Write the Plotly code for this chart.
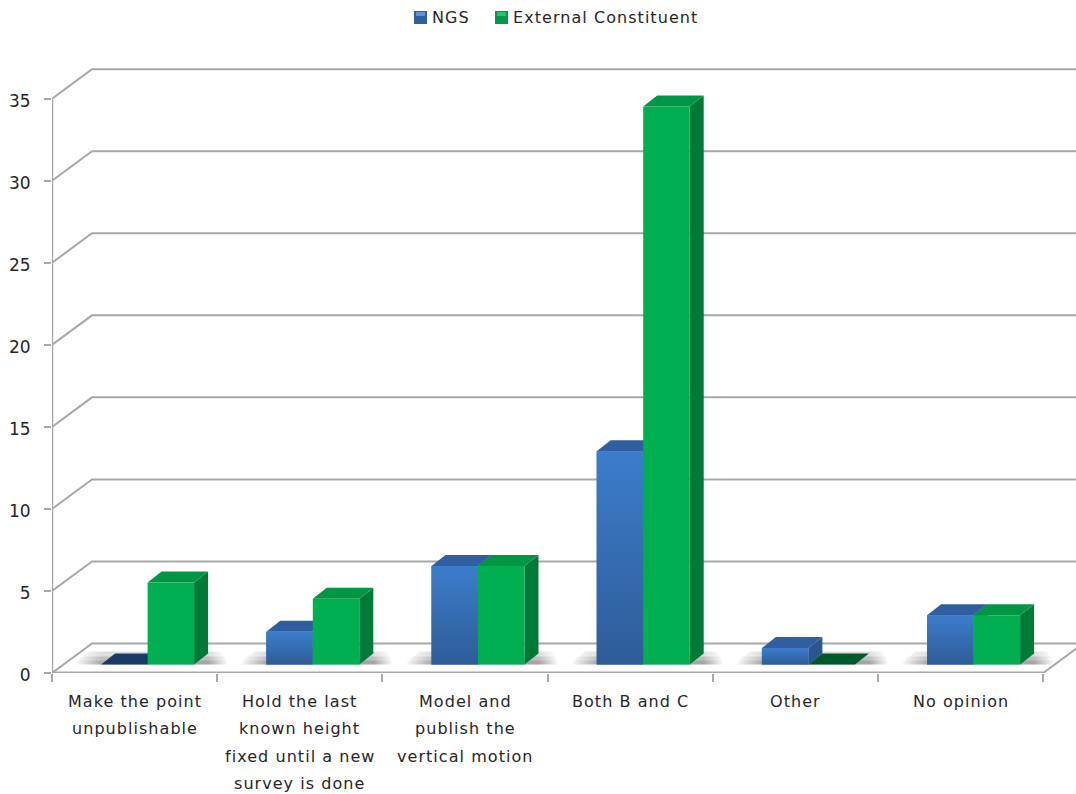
import plotly.graph_objects as go

# Survey responses per option, with category labels broken into lines
category_lines = [
    ["Make the point", "unpublishable"],
    ["Hold the last", "known height", "fixed until a new", "survey is done"],
    ["Model and", "publish the", "vertical motion"],
    ["Both B and C"],
    ["Other"],
    ["No opinion"],
]
ngs_values = [0, 2, 6, 13, 1, 3]
external_values = [5, 4, 6, 34, 0, 3]
y_ticks = [0, 5, 10, 15, 20, 25, 30, 35]

WIDTH, HEIGHT = 1076, 794
LEFT, BASELINE = 52, 672.7
PX_PER_CAT, PX_PER_UNIT = 165.2, 16.4
TOP = 56


def ux(px):
    return px / PX_PER_CAT


def uy(px):
    return px / PX_PER_UNIT


def spaced(text):
    return f"<span style='letter-spacing:1.05px'>{text}</span>"


# Oblique projection offsets, in data units
wall_dx, wall_dy = ux(40), uy(29.5)
bar_dx, bar_dy = ux(14), uy(11)
bar_base = uy(8.5)
group_shift = ux(13)
bar_w = ux(46.5)
n_cat = len(category_lines)

GRID = "#a8a8a8"
TEXT = "#262626"
series = [
    dict(name="NGS", values=ngs_values, front="#3876c2", top="#2f5f9e", side="#2a5690",
         flat="#1c3a66", grad=[[0, "#2f5c98"], [1, "#3b7dcb"]], offset=-bar_w / 2),
    dict(name="External Constituent", values=external_values, front="#00b050", top="#009645",
         side="#007a37", flat="#00592a", grad=None, offset=bar_w / 2),
]

fig = go.Figure()


def poly(xs, ys, z, color=None, gradient=None):
    fig.add_trace(go.Scatter(
        x=xs + xs[:1], y=ys + ys[:1], mode="lines", line=dict(width=0),
        fill="toself", fillcolor=color, fillgradient=gradient,
        hoverinfo="skip", showlegend=False, zorder=z,
    ))


# Wall gridlines with their slanted run back from the value axis
for v in y_ticks:
    fig.add_trace(go.Scatter(
        x=[0, wall_dx, n_cat + wall_dx], y=[v, v + wall_dy, v + wall_dy],
        mode="lines", line=dict(color=GRID, width=2), hoverinfo="skip",
        showlegend=False, zorder=0,
    ))
fig.add_trace(go.Scatter(x=[0, 0], y=[0, y_ticks[-1]], mode="lines",
                         line=dict(color=GRID, width=2.5), hoverinfo="skip",
                         showlegend=False, zorder=0))
fig.add_trace(go.Scatter(x=[n_cat, n_cat + wall_dx], y=[0, wall_dy], mode="lines",
                         line=dict(color=GRID, width=2), hoverinfo="skip",
                         showlegend=False, zorder=0))

# Soft shadow on the floor around each bar group, denser close to the base
for i in range(n_cat):
    c = i + 0.5 + group_shift
    left, right = c - bar_w - ux(26), c + bar_w + ux(34)
    span = right - left
    stop_l = ux(26) / span
    stop_r = (ux(26) + 2 * bar_w + ux(14)) / span
    for height, slant, alpha in [(4, 2, 0.22), (8, 6, 0.22), (13, 14, 0.2)]:
        poly([left, right, right - ux(slant / 2), left + ux(slant)],
             [bar_base, bar_base, bar_base + uy(height), bar_base + uy(height)], 1,
             gradient=dict(type="horizontal", colorscale=[
                 [0, "rgba(110,110,110,0)"], [stop_l, f"rgba(90,90,90,{alpha})"],
                 [stop_r, f"rgba(80,80,80,{alpha})"], [1, "rgba(110,110,110,0)"]]))

# Bars: side and top faces from the values, front faces as bar traces
for s_idx, s in enumerate(series):
    z = 2 + s_idx * 3
    for i, v in enumerate(s["values"]):
        xl = i + 0.5 + group_shift + s["offset"] - bar_w / 2
        xr = xl + bar_w
        t = bar_base + v
        if v > 0:
            poly([xr, xr + bar_dx, xr + bar_dx, xr],
                 [bar_base, bar_base + bar_dy, t + bar_dy, t], z, color=s["side"])
        poly([xl, xl + bar_dx, xr + bar_dx, xr], [t, t + bar_dy, t + bar_dy, t], z,
             color=s["top"] if v > 0 else s["flat"])
    fig.add_trace(go.Bar(
        x=[i + 0.5 + group_shift + s["offset"] for i in range(n_cat)],
        y=s["values"], base=[bar_base] * n_cat, width=bar_w, name=s["name"],
        marker=dict(color=s["front"], line=dict(width=0)),
        showlegend=False, zorder=z + 1,
    ))
    if s["grad"]:
        for i, v in enumerate(s["values"]):
            if v > 0:
                xl = i + 0.5 + group_shift + s["offset"] - bar_w / 2
                poly([xl, xl + bar_w, xl + bar_w, xl],
                     [bar_base, bar_base, bar_base + v, bar_base + v], z + 2,
                     gradient=dict(type="vertical", colorscale=s["grad"]))

# Multi-line category labels with the chart's wide line spacing
annotations = []
for i, lines in enumerate(category_lines):
    for j, line in enumerate(lines):
        annotations.append(dict(
            x=i + 0.5, y=0, xref="x", yref="y", yanchor="middle", xanchor="center",
            yshift=-(28.5 + 27.4 * j), text=spaced(line), showarrow=False,
            font=dict(family="DejaVu Sans", size=16, color=TEXT),
        ))

# Legend row above the plot
legend_items = [
    ("NGS", 414, 432, "#2f5f9e", "#5b93d6"),
    ("External Constituent", 495, 513, "#00984a", "#22c46c"),
]
plot_w, plot_h = WIDTH - LEFT, BASELINE - TOP
shapes = []
for label, sx, tx, dark, light in legend_items:
    shapes.append(dict(type="rect", xref="paper", yref="paper",
                       x0=(sx - LEFT) / plot_w, x1=(sx + 13 - LEFT) / plot_w,
                       y0=1 + (TOP - 24) / plot_h, y1=1 + (TOP - 11) / plot_h,
                       fillcolor=dark, line=dict(width=0)))
    shapes.append(dict(type="rect", xref="paper", yref="paper",
                       x0=(sx + 2 - LEFT) / plot_w, x1=(sx + 11 - LEFT) / plot_w,
                       y0=1 + (TOP - 16) / plot_h, y1=1 + (TOP - 12) / plot_h,
                       fillcolor=light, line=dict(width=0)))
    annotations.append(dict(
        x=(tx - LEFT) / plot_w, y=1 + (TOP - 18) / plot_h,
        xref="paper", yref="paper", xanchor="left", yanchor="middle", xshift=-2,
        text=spaced(label), showarrow=False,
        font=dict(family="DejaVu Sans", size=16, color=TEXT),
    ))

fig.update_layout(
    width=WIDTH, height=HEIGHT, autosize=False,
    margin=dict(l=LEFT, r=0, t=TOP, b=HEIGHT - BASELINE, pad=0),
    paper_bgcolor="white", plot_bgcolor="white",
    showlegend=False, barmode="overlay",
    annotations=annotations, shapes=shapes,
    xaxis=dict(range=[0, (WIDTH - LEFT) / PX_PER_CAT], tickmode="array",
               tickvals=list(range(n_cat + 1)), ticks="outside", ticklen=8, tickwidth=2,
               tickcolor=GRID, showticklabels=False, showgrid=False, zeroline=False),
    yaxis=dict(range=[0, (BASELINE - TOP) / PX_PER_UNIT], tickmode="array",
               tickvals=y_ticks, ticktext=[str(v) for v in y_ticks], ticks="outside",
               ticklen=7, tickwidth=2, tickcolor=GRID, ticklabelstandoff=10,
               ticklabelshift=2, showgrid=False, zeroline=False,
               tickfont=dict(family="DejaVu Sans", size=17, color=TEXT)),
)
# Front floor edge spans only the category range
fig.add_trace(go.Scatter(x=[0, n_cat], y=[0, 0], mode="lines",
                         line=dict(color=GRID, width=3), cliponaxis=False,
                         hoverinfo="skip", showlegend=False, zorder=0))

fig.write_html("out.html")
